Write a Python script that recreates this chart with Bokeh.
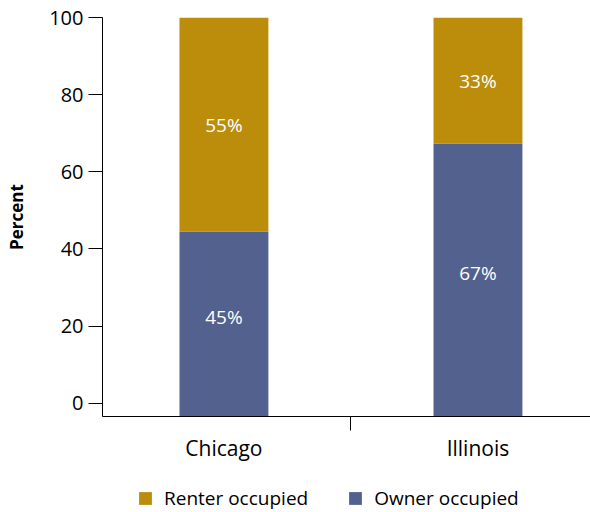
from bokeh.plotting import figure
from bokeh.layouts import column
from bokeh.models import (ColumnDataSource, FixedTicker, Legend, LegendItem, Range1d)
from bokeh.core.properties import value
from bokeh.embed import file_html
from bokeh.resources import INLINE

# ---- data ----
categories = ["Chicago", "Illinois"]
owner = [44.5, 67.3]
renter = [55.5, 32.7]
owner_labels = ["45%", "67%"]
renter_labels = ["55%", "33%"]
y_ticks = [0, 20, 40, 60, 80, 100]
series_names = ["Renter occupied", "Owner occupied"]

FONT = "Open Sans"
RENTER_COLOR = "#BC8C0B"
OWNER_COLOR = "#53618E"
Y_START = -3.45

xs = list(range(len(categories)))
owner_bottom = [Y_START] * len(xs)
owner_top = owner
renter_bottom = owner
renter_top = [o + r for o, r in zip(owner, renter)]
owner_mid = [o / 2 for o in owner]
renter_mid = [o + r / 2 for o, r in zip(owner, renter)]

src = ColumnDataSource(dict(
    x=xs, ob=owner_bottom, ot=owner_top, rb=renter_bottom, rt=renter_top,
    om=owner_mid, rm=renter_mid, ol=owner_labels, rl=renter_labels,
))

p = figure(width=590, height=470, output_backend="svg", toolbar_location=None,
           x_range=Range1d(-0.478, 1.443), y_range=Range1d(Y_START, 100),
           min_border_left=102, min_border_top=17, min_border_right=0,
           min_border_bottom=54)
p.outline_line_color = None
p.grid.visible = False
p.background_fill_color = "white"
p.border_fill_color = "white"

p.vbar(x="x", bottom="ob", top="ot", width=0.35, source=src,
       fill_color=OWNER_COLOR, line_color=None)
p.vbar(x="x", bottom="rb", top="rt", width=0.35, source=src,
       fill_color=RENTER_COLOR, line_color=None)

for ycol, tcol in (("om", "ol"), ("rm", "rl")):
    p.text(x="x", y=ycol, text=tcol, source=src, text_color="white",
           text_font=value(FONT), text_font_size="19px",
           text_align="center", text_baseline="middle")

# y axis
p.yaxis.ticker = FixedTicker(ticks=y_ticks)
p.yaxis.axis_line_color = "black"
p.yaxis.major_tick_line_color = "black"
p.yaxis.major_tick_out = 14
p.yaxis.major_tick_in = 0
p.yaxis.minor_tick_line_color = None
p.yaxis.major_label_text_font = FONT
p.yaxis.major_label_text_font_size = "20px"
p.yaxis.major_label_text_color = "black"
p.yaxis.major_label_standoff = 5
p.yaxis.axis_label = "Percent"
p.yaxis.axis_label_text_font = FONT
p.yaxis.axis_label_text_font_style = "bold"
p.yaxis.axis_label_text_font_size = "17px"
p.yaxis.axis_label_text_color = "black"
p.yaxis.axis_label_standoff = 18

# x axis: labels at category centres, separator tick between them
seps = [i + 0.5 for i in xs[:-1]]
p.xaxis.ticker = FixedTicker(ticks=xs, minor_ticks=seps)
p.xaxis.major_label_overrides = {i: c for i, c in zip(xs, categories)}
p.xaxis.major_tick_out = 0
p.xaxis.major_tick_in = 0
p.xaxis.minor_tick_out = 14
p.xaxis.minor_tick_in = 0
p.xaxis.minor_tick_line_color = "black"
p.xaxis.axis_line_color = "black"
p.xaxis.major_label_text_font = FONT
p.xaxis.major_label_text_font_size = "21px"
p.xaxis.major_label_text_color = "black"
p.xaxis.major_label_standoff = 3

# legend strip below the chart (its bars fall outside its own ranges)
lg = figure(width=590, height=42, output_backend="svg", toolbar_location=None,
            x_axis_location=None, y_axis_location=None,
            x_range=Range1d(1000, 1001), y_range=Range1d(1000, 1001),
            min_border_left=0, min_border_right=0, min_border_top=0,
            min_border_bottom=0)
lg.outline_line_color = None
lg.grid.visible = False
lg_r = lg.vbar(x="x", bottom="rb", top="rt", width=0.35, source=src,
               fill_color=RENTER_COLOR, line_color=None)
lg_o = lg.vbar(x="x", bottom="ob", top="ot", width=0.35, source=src,
               fill_color=OWNER_COLOR, line_color=None)

legend = Legend(items=[LegendItem(label=series_names[0], renderers=[lg_r]),
                       LegendItem(label=series_names[1], renderers=[lg_o])],
                orientation="horizontal", location=(35, 1),
                glyph_width=16, glyph_height=16, label_standoff=11, spacing=39,
                padding=0, margin=0, border_line_color=None,
                background_fill_alpha=0, label_text_font=FONT,
                label_text_font_size="19px", label_text_color="black",
                label_height=16)
lg.add_layout(legend, "center")

layout = column(p, lg, spacing=0)
open("out.html", "w").write(file_html(layout, INLINE))
